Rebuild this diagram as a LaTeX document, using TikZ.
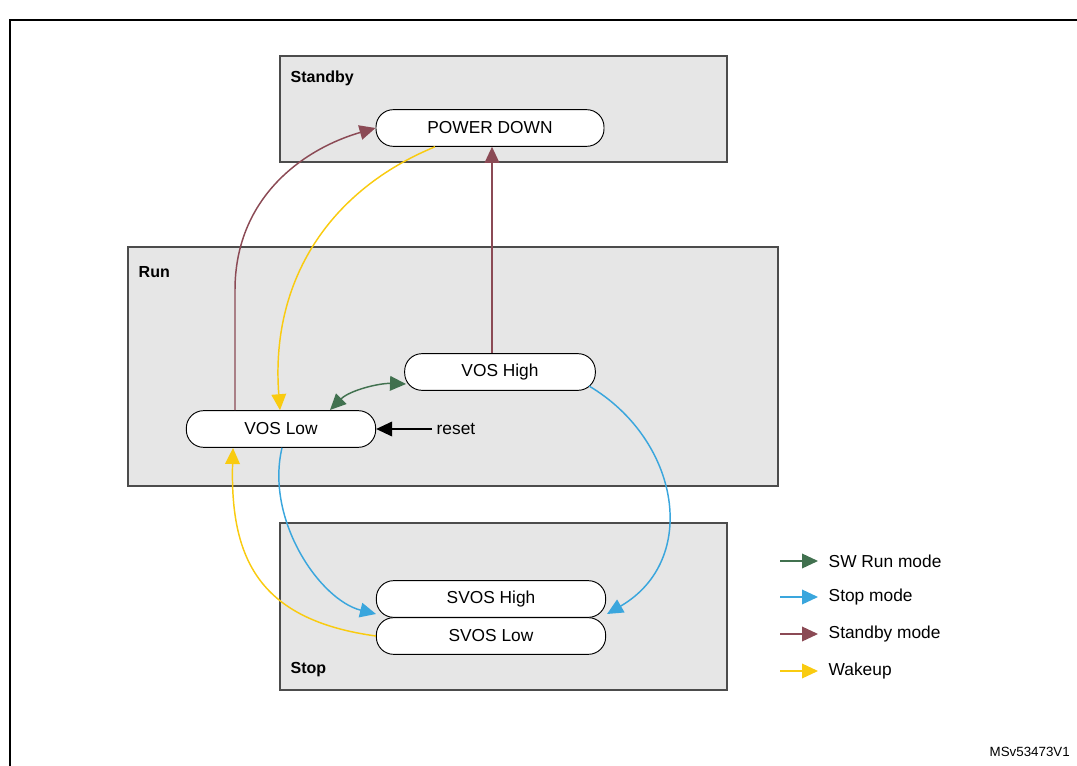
\documentclass[tikz,border=0pt]{standalone}
\usepackage{fontspec}
\setmainfont{Liberation Sans}
\usetikzlibrary{arrows.meta}
\definecolor{cg}{HTML}{41714F}
\definecolor{cb}{HTML}{3AA6DD}
\definecolor{cr}{HTML}{8B4A55}
\definecolor{cy}{HTML}{F9CB10}
\definecolor{bx}{HTML}{E6E6E6}
\begin{document}
\begin{tikzpicture}[x=0.75pt,y=-0.75pt,
  grp/.style={draw=black!70,fill=bx,line width=0.8pt},
  st/.style={draw=black,fill=white,rounded corners=13pt,minimum height=27.5pt,inner sep=0pt,font=\fontsize{13}{15}\selectfont,line width=0.7pt},
  lbl/.style={font=\bfseries\fontsize{12}{14}\selectfont,anchor=west},
  con/.style={line width=1.1pt,-{Triangle[length=12pt,width=11pt]}},
  txt/.style={font=\fontsize{13}{15}\selectfont,anchor=west}]
\useasboundingbox (0,0) rectangle (1077,766);
\draw[line width=1pt] (10,770) -- (10,20) -- (1080,20);
\draw[grp] (280,56) rectangle (727,162);
\node[lbl] (lstandby) at (286,78) {Standby};
\draw[grp] (128,247) rectangle (778,486);
\node[lbl] (lrun) at (134,272) {Run};
\draw[grp] (280,523) rectangle (727,690);
\node[lbl] (lstop) at (286,670) {Stop};
\node[st,minimum width=171pt] (pd) at (490,128) {POWER DOWN};
\node[st,minimum width=143pt] (vh) at (500,372) {VOS High};
\node[st,minimum width=142pt] (vl) at (281,429) {VOS Low};
\node[st,minimum width=172pt] (sl) at (491,636) {SVOS Low};
\node[st,minimum width=172pt] (sh) at (491,599) {SVOS High};
\node[txt] (reset) at (432,429) {reset};
\draw[line width=1.1pt,-{Triangle[length=12pt,width=11pt]}] (reset.west) -- (vl.east);
% standby
\draw[con,cr] (vl.north -| 235,0) -- (235,290) .. controls (235,200) and (300,150) .. (pd.west);
\draw[con,cr] (vh.north -| 492,0) -- (pd.south -| 492,0);
% wakeup
\draw[con,cy] (pd.south -| 435,0) .. controls (330,190) and (270,280) .. (vl.north -| 280,0);
\draw[con,cy] (sl.west) .. controls (260,620) and (230,560) .. (233,448);
% sw run
\draw[line width=1.1pt,cg,{Triangle[length=12pt,width=11pt]}-{Triangle[length=12pt,width=11pt]}] (330,410) .. controls (350,390) and (380,383) .. (406,384);
% stop
\draw[con,cb] (vl.south -| 282,0) .. controls (265,520) and (320,600) .. (376,614);
\draw[con,cb] (589,386) .. controls (680,440) and (700,560) .. (607,614);
% legend
\coordinate (a1) at (780,561); \coordinate (b1) at (818,561);
\coordinate (a2) at (780,597); \coordinate (b2) at (818,597);
\coordinate (a3) at (780,634); \coordinate (b3) at (818,634);
\coordinate (a4) at (780,671); \coordinate (b4) at (818,671);
\draw[con,cg] (a1) -- (b1); \node[txt] (t1) at (824,561) {SW Run mode};
\draw[con,cb] (a2) -- (b2); \node[txt] (t2) at (824,597) {Stop mode};
\draw[con,cr] (a3) -- (b3); \node[txt] (t3) at (824,634) {Standby mode};
\draw[con,cy] (a4) -- (b4); \node[txt] (t4) at (824,671) {Wakeup};
\node[anchor=west,font=\fontsize{10}{12}\selectfont] (ms) at (985,752) {MSv53473V1};
\end{tikzpicture}
\end{document}
